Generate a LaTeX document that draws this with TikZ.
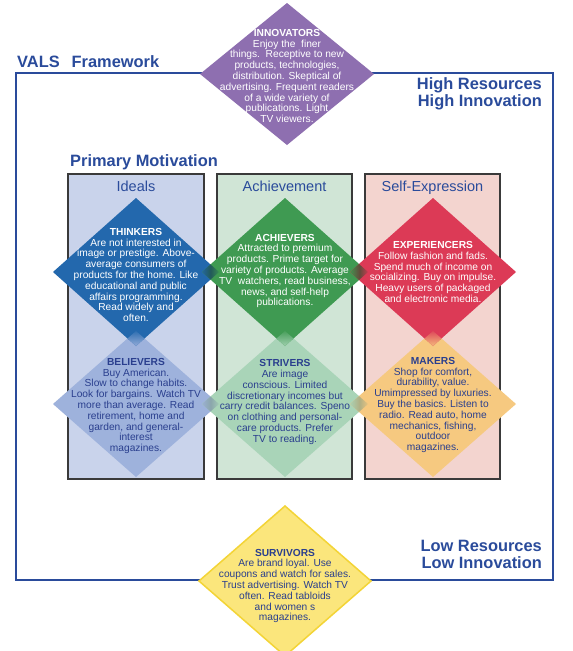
\documentclass[tikz,border=0pt]{standalone}
\usepackage{fontspec}
\setmainfont{Liberation Sans}
\usetikzlibrary{calc}
\definecolor{hdblue}{HTML}{2A4B9B}
\definecolor{navy}{HTML}{2A3F8E}
\definecolor{cinnov}{HTML}{8E6FB0}
\definecolor{cthink}{HTML}{2368AD}
\definecolor{cachiev}{HTML}{3F9A52}
\definecolor{cexper}{HTML}{DC3A56}
\definecolor{cbeliev}{HTML}{9EB2DC}
\definecolor{cstriv}{HTML}{A9D4B8}
\definecolor{cmaker}{HTML}{F6C980}
\definecolor{csurv}{HTML}{FBE67C}
\definecolor{csurvb}{HTML}{F3D436}
\definecolor{bgideal}{HTML}{C9D3EB}
\definecolor{bgachiev}{HTML}{D0E5D6}
\definecolor{bgself}{HTML}{F3D4CF}
\definecolor{colborder}{HTML}{3A3A3A}
\newcommand\dmd[4]{(#1-#3,#2) -- (#1,#2-#4) -- (#1+#3,#2) -- (#1,#2+#4) -- cycle}
\tikzset{
  heading/.style={font=\fontsize{16.4}{17}\selectfont\bfseries, text=hdblue, inner sep=0},
  coltitle/.style={font=\fontsize{14.5}{16}\selectfont, text=hdblue, inner sep=0, anchor=base},
  column/.style={draw=colborder, line width=1.3pt},
  dtext/.style={font=\fontsize{10.2}{10.8}\selectfont, align=center, inner sep=0},
  wtext/.style={dtext, text=white},
  btext/.style={dtext, text=navy},
  frameline/.style={draw=hdblue, line width=2pt},
}
\begin{document}
\begin{tikzpicture}[x=1pt,y=-1pt]
\useasboundingbox (0,0) rectangle (573,651);
\fill[white] (0,0) rectangle (573,651);
% frame
\draw[frameline] (16,73) rectangle (553,580);
% columns
\draw[column, fill=bgideal] (68,174) rectangle (204,479);
\draw[column, fill=bgachiev] (217,174) rectangle (352,479);
\draw[column, fill=bgself] (365,174) rectangle (500,479);
% bottom row diamonds
\fill[cbeliev] \dmd{136}{404}{83}{73};
\fill[cstriv] \dmd{285}{404}{83}{73};
\fill[cmaker] \dmd{433}{404}{83}{73};
% top row diamonds
\fill[cthink] \dmd{136}{272}{83}{74};
\fill[cachiev] \dmd{285}{272}{83}{74};
\fill[cexper] \dmd{433}{272}{83}{74};
% horizontal overlaps top row
\begin{scope}
\clip \dmd{136}{272}{83}{74}; \clip \dmd{285}{272}{83}{74};
\shade[left color=cthink, right color=cachiev, middle color=cthink!50!cachiev!70!black] (200,250) rectangle (221,295);
\end{scope}
\begin{scope}
\clip \dmd{285}{272}{83}{74}; \clip \dmd{433}{272}{83}{74};
\shade[left color=cachiev, right color=cexper, middle color=cachiev!50!cexper!70!black] (349,250) rectangle (370,295);
\end{scope}
% horizontal overlaps bottom row
\begin{scope}
\clip \dmd{136}{404}{83}{73}; \clip \dmd{285}{404}{83}{73};
\shade[left color=cbeliev, right color=cstriv, middle color=cbeliev!50!cstriv!85!black] (200,380) rectangle (221,425);
\end{scope}
\begin{scope}
\clip \dmd{285}{404}{83}{73}; \clip \dmd{433}{404}{83}{73};
\shade[left color=cstriv, right color=cmaker, middle color=cstriv!50!cmaker!85!black] (349,380) rectangle (370,425);
\end{scope}
% vertical overlaps
\begin{scope}
\clip \dmd{136}{272}{83}{74}; \clip \dmd{136}{404}{83}{73};
\shade[top color=cthink, bottom color=cbeliev] (110,329) rectangle (162,348);
\end{scope}
\begin{scope}
\clip \dmd{285}{272}{83}{74}; \clip \dmd{285}{404}{83}{73};
\shade[top color=cachiev, bottom color=cstriv] (259,329) rectangle (311,348);
\end{scope}
\begin{scope}
\clip \dmd{433}{272}{83}{74}; \clip \dmd{433}{404}{83}{73};
\shade[top color=cexper, bottom color=cmaker] (407,329) rectangle (459,348);
\end{scope}
% innovators and survivors
\fill[cinnov] \dmd{287}{74}{87}{71};
\filldraw[fill=csurv, draw=csurvb, line width=1.5pt] \dmd{285}{581}{86}{75};
% headings
\node[heading, anchor=base west] (vals) at (17,67) {VALS\hspace{12pt}Framework};
\node[heading, anchor=base west] (primot) at (70,166) {Primary Motivation};
\node[heading, anchor=base east, align=right] (high) at (542,106) {High Resources\\High Innovation};
\node[heading, anchor=base east, align=right] (low) at (542,568) {Low Resources\\Low Innovation};
% column titles
\node[coltitle] (ideals) at (136,191) {Ideals};
\node[coltitle] (achievement) at (284.5,191) {Achievement};
\node[coltitle] (selfexp) at (432.5,191) {Self-Expression};
% diamond texts
\node[wtext] (innovators) at (287,76) {\textbf{INNOVATORS}\\Enjoy the\ \ finer\\things.\ \ Receptive to new\\products, technologies,\\distribution. Skeptical of\\advertising. Frequent readers\\of a wide variety of\\publications. Light\\TV viewers.};
\node[wtext] (thinkers) at (136,275) {\textbf{THINKERS}\\Are not interested in\\image or prestige. Above-\\average consumers of\\products for the home. Like\\educational and public\\affairs programming.\\Read widely and\\often.};
\node[wtext] (achievers) at (285,271) {\textbf{ACHIEVERS}\\Attracted to premium\\products. Prime target for\\variety of products. Average\\TV\ \ watchers, read business,\\news, and self-help\\publications.};
\node[wtext] (experiencers) at (433,272) {\textbf{EXPERIENCERS}\\Follow fashion and fads.\\Spend much of income on\\socializing. Buy on impulse.\\Heavy users of packaged\\and electronic media.};
\node[btext] (believers) at (136,406) {\textbf{BELIEVERS}\\Buy American.\\Slow to change habits.\\Look for bargains. Watch TV\\more than average. Read\\retirement, home and\\garden, and general-\\interest\\magazines.};
\node[btext] (strivers) at (285,402) {\textbf{STRIVERS}\\Are image\\conscious. Limited\\discretionary incomes but\\carry credit balances. Speno\\on clothing and personal-\\care products. Prefer\\TV to reading.};
\node[btext] (makers) at (433,405) {\textbf{MAKERS}\\Shop for comfort,\\durability, value.\\Umimpressed by luxuries.\\Buy the basics. Listen to\\radio. Read auto, home\\mechanics, fishing,\\outdoor\\magazines.};
\node[btext] (survivors) at (285,586) {\textbf{SURVIVORS}\\Are brand loyal. Use\\coupons and watch for sales.\\Trust advertising. Watch TV\\often. Read tabloids\\and women s\\magazines.};
\end{tikzpicture}
\end{document}
